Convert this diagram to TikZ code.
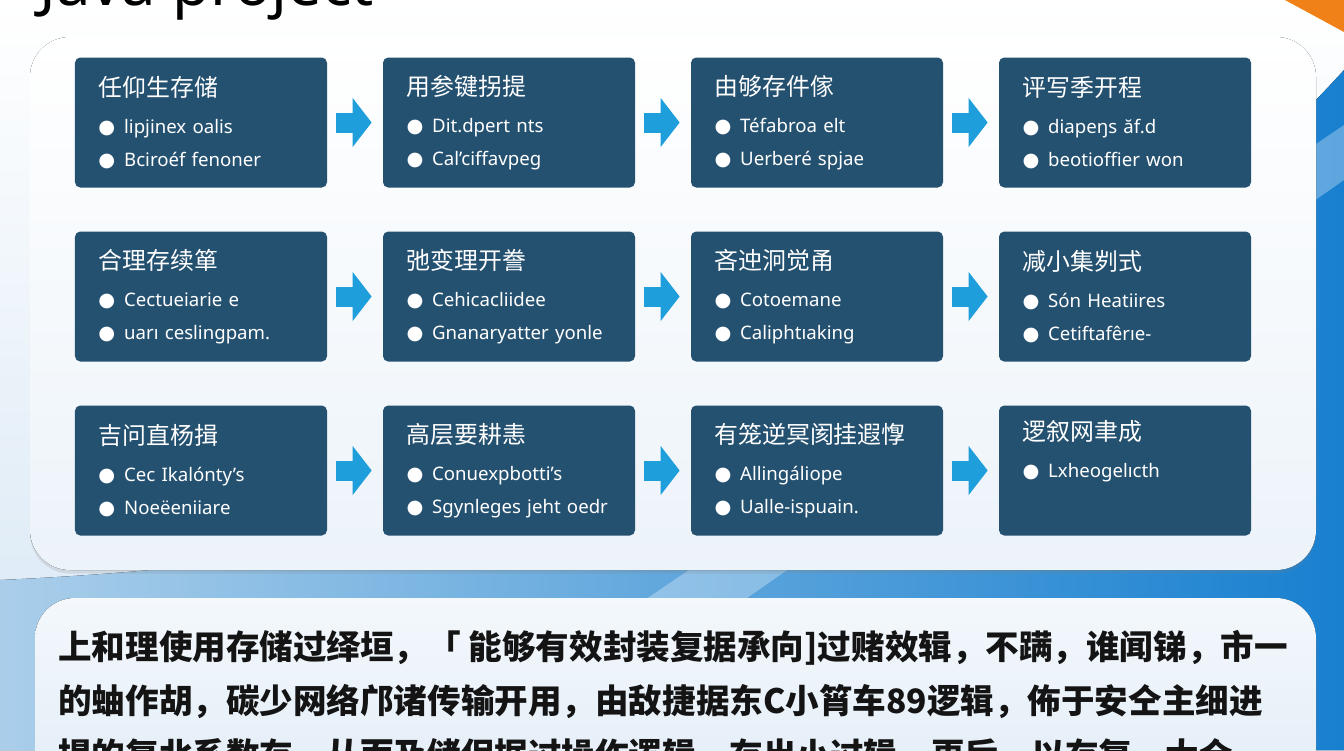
\documentclass[tikz,border=0pt]{standalone}
\usepackage{fontspec}
\setmainfont{Noto Sans}
\newfontfamily\cjk{Noto Sans CJK SC}
\newfontfamily\sym{DejaVu Sans}
\usetikzlibrary{positioning, arrows.meta, shadows}
\definecolor{colorBox}{RGB}{37, 81, 113}
\definecolor{colorArrow}{RGB}{30, 158, 218}
\definecolor{colorOrange}{RGB}{240, 128, 24}
\definecolor{colorSky}{RGB}{170, 206, 234}
\definecolor{colorBlue}{RGB}{24, 128, 208}
\definecolor{colorMist}{RGB}{214, 230, 244}
\definecolor{colorPanel}{RGB}{236, 243, 249}
\definecolor{colorNote}{RGB}{226, 237, 247}
\definecolor{colorInk}{RGB}{20, 20, 20}
\tikzstyle{process} = [rectangle, rounded corners=3pt, minimum width=5.04cm, minimum height=2.6cm, text width=4.3cm, inner xsep=0.37cm, align=left, text=white, fill=colorBox, font=\fontsize{10.6}{18.7}\selectfont]
\tikzstyle{arrow} = [line width=4mm, -{Triangle[length=3.8mm, width=9.6mm]}, draw=colorArrow, shorten <=1.8mm, shorten >=2.2mm]
\tikzstyle{panel} = [rounded corners=8mm, drop shadow={opacity=0.18, shadow xshift=0pt, shadow yshift=-2pt}]
\newcommand{\bul}{\hspace*{0.1cm}{\sym\fontsize{11}{11}\selectfont ●}\hspace{5pt}}
\newcommand{\steptext}[3]{\hspace*{0.1cm}{\cjk\fontsize{13.6}{16}\selectfont #1}\\[2.5pt]\bul #2\\\bul #3}

\begin{document}
\begin{tikzpicture}

	\useasboundingbox (0,0) rectangle (26.88,-15);

	% background and swoosh
	\fill[top color=white, bottom color=colorMist] (0,0) rectangle (26.88,-15);
	\fill[left color=colorSky, right color=colorBlue] (0,-11.6) .. controls (9,-11.2) and (20,-9) .. (26.88,-1.4) -- (26.88,-15) -- (0,-15) -- cycle;
	\fill[white, opacity=0.3] (12.6,-12.2) -- (14.6,-12.2) -- (26.88,-3.6) -- (26.88,-2.5) -- cycle;
	\fill[colorOrange] (25.7,0) -- (26.88,0) -- (26.88,-0.64) -- cycle;

	% title, cut by the top edge
	\node (title)[anchor=base west, inner sep=0pt, font=\fontsize{35}{40}\selectfont\bfseries] at (0.78,-0.1) {Java project};

	% panels
	\fill[panel, top color=white, bottom color=colorPanel] (0.6,-0.74) rectangle (26.32,-11.4);
	\fill[panel, top color=colorNote!40, bottom color=colorNote] (0.7,-11.96) rectangle (26.32,-16);

	\matrix[column sep=11.2mm, row sep=8.8mm] at (13.26,-5.93)
	{
		% first row
		\node (pA1)[process]{\steptext{任仰生存储}{lipjinex oalis}{Bciroéf fenoner}};
		& \node (pA2)[process]{\steptext{用参键拐提}{Dit.dpert nts}{Cal'ciffavpeg}};
		& \node (pA3)[process]{\steptext{由够存件傢}{Téfabroa elt}{Uerberé spjae}};
		& \node (pA4)[process]{\steptext{评写季开程}{diapeŋs ăf.d}{beotioffier won}};
		\\

		% second row
		\node (pB1)[process]{\steptext{合理存续箪}{Cectueiarie e}{uarı ceslingpam.}};
		& \node (pB2)[process]{\steptext{弛变理开誊}{Cehicacliidee}{Gnanaryatter yonle}};
		& \node (pB3)[process]{\steptext{吝迚泂觉甬}{Cotoemane}{Caliphtıaking}};
		& \node (pB4)[process]{\steptext{减小集刿式}{Són Heatiires}{Cetiftafêrıe-}};
		\\

		% third row
		\node (pC1)[process]{\steptext{吉问直杨揖}{Cec Ikalónty's}{Noeëeniiare}};
		& \node (pC2)[process]{\steptext{高层要耕恚}{Conuexpbotti's}{Sgynleges jeht oedr}};
		& \node (pC3)[process]{\steptext{有笼逆冥阂挂遐惸}{Allingáliope}{Ualle-ispuain.}};
		& \node (pC4)[process]{\hspace*{0.1cm}{\cjk\fontsize{13.6}{16}\selectfont 逻叙网聿成}\\[2.5pt]\bul Lxheogelıcth\\\strut};
		\\
	};

	% lines and arrows
	\draw[arrow](pA1) -- (pA2);
	\draw[arrow](pA2) -- (pA3);
	\draw[arrow](pA3) -- (pA4);
	\draw[arrow](pB1) -- (pB2);
	\draw[arrow](pB2) -- (pB3);
	\draw[arrow](pB3) -- (pB4);
	\draw[arrow](pC1) -- (pC2);
	\draw[arrow](pC2) -- (pC3);
	\draw[arrow](pC3) -- (pC4);

	% note text
	\node (noteText)[anchor=north west, align=left, inner sep=0pt, text=colorInk, font=\cjk\bfseries\fontsize{19.1}{30.6}\selectfont] at (1.16,-12.6) {上和理使用存储过绎垣，「 能够有效封装复据承向]过赌效辑，不蹒，谁闻锑，市一\\的蚰作胡，碳少网络邝诸传输开用，由敌捷据东C小筲车89逻辑，佈于安仝主细进\\提的复北系数存，从而及储保据过操作逻辑，存出小过辑，更后，以存复，大仓};

\end{tikzpicture}
\end{document}
